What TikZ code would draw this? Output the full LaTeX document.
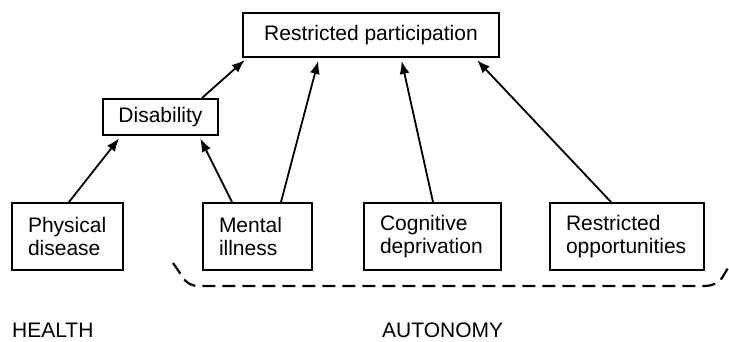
\documentclass[tikz,border=0pt]{standalone}
\usepackage{fontspec}
\setmainfont{Liberation Sans}
\usetikzlibrary{arrows.meta}
\begin{document}
\begin{tikzpicture}[x=1pt,y=-1pt,
  box/.style={draw,line width=2pt,inner sep=0pt,font=\fontsize{21}{23}\selectfont},
  twoline/.style={box,minimum height=67pt,align=left,inner xsep=16pt},
  arr/.style={line width=1.8pt,-{Latex[length=13pt,width=10pt]},shorten >=3pt},
  lbl/.style={inner sep=0pt,font=\fontsize{21}{23}\selectfont,anchor=base west}]
\useasboundingbox (0,0) rectangle (729,341);
\node[box,minimum width=256pt,minimum height=44pt] (rp) at (371,35) {Restricted participation};
\node[box,minimum width=115pt,minimum height=36pt] (dis) at (160.5,117) {Disability};
\node[twoline,text width=79pt] (phys) at (67.5,236.5) {Physical\\disease};
\node[twoline,text width=77pt] (ment) at (257.5,236.5) {Mental\\illness};
\node[twoline,text width=105pt] (cog) at (432.5,236.5) {Cognitive\\deprivation};
\node[twoline,text width=122pt] (ro) at (627,236.5) {Restricted\\opportunities};
\draw[arr] ([xshift=58pt]phys.north west) -- ([xshift=19pt]dis.south west);
\draw[arr] ([xshift=30pt]ment.north west) -- ([xshift=97pt]dis.south west);
\draw[arr] ([xshift=79pt]ment.north west) -- ([xshift=77pt]rp.south west);
\draw[arr] ([xshift=100pt]dis.north west) -- ([xshift=5pt]rp.south west);
\draw[arr] ([xshift=70pt]cog.north west) -- ([xshift=159pt]rp.south west);
\draw[arr] ([xshift=62pt]ro.north west) -- ([xshift=233pt]rp.south west);
\draw[line width=2.2pt,dash pattern=on 13pt off 7pt]
  (173,263) -- (182,276) .. controls (186,283) and (191,286) .. (199,286)
  -- (705,286) .. controls (712,286) and (718,283) .. (722,278) -- (728,268);
\node[lbl] (health) at (12,337.5) {HEALTH};
\node[lbl] (auton) at (382,337.5) {AUTONOMY};
\end{tikzpicture}
\end{document}
